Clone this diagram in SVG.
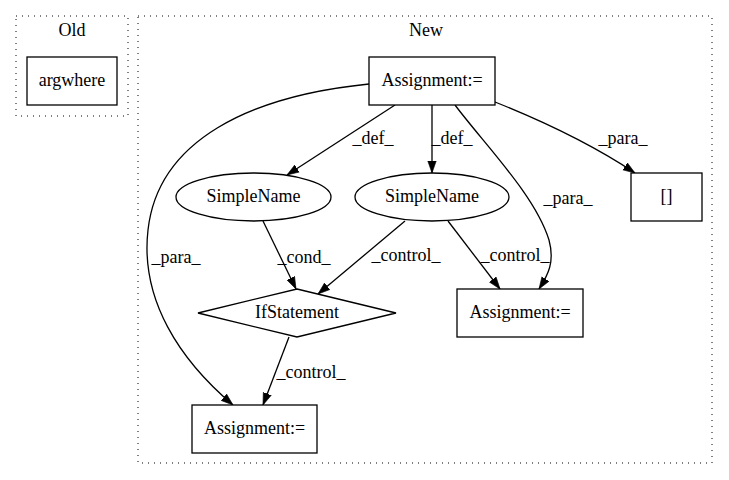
<svg xmlns="http://www.w3.org/2000/svg" width="729" height="480" viewBox="0 0 729 480">
<style>
text{font-family:'Liberation Serif','Times New Roman',Times,serif;font-size:18px;fill:#000}
.n{text-anchor:middle}
.cl{fill:none;stroke:#000;stroke-width:1;stroke-dasharray:1,5}
.shape{fill:#fff;stroke:#000;stroke-width:1.3}
.e{fill:none;stroke:#000;stroke-width:1.3}
.l{text-anchor:middle}
</style>
<defs>
<marker id="ah" markerUnits="userSpaceOnUse" markerWidth="12" markerHeight="10" viewBox="0 0 10 7" refX="10" refY="3.5" orient="auto">
<path d="M0,0 L10,3.5 L0,7 Z" fill="#000" stroke="#000" stroke-width="0.5"/>
</marker>
</defs>
<rect width="729" height="480" fill="#fff"/>
<g id="cluster_old">
<rect class="cl" x="16" y="16" width="112" height="100"/>
<text class="n" x="72" y="36">Old</text>
</g>
<g id="cluster_new">
<rect class="cl" x="138" y="16" width="574" height="447"/>
<text class="n" x="426" y="36">New</text>
</g>
<g id="connectors">
<path class="e" marker-end="url(#ah)" d="M395,105 L287,175"/>
<text class="l" x="373" y="144">_def_</text>
<path class="e" marker-end="url(#ah)" d="M432,105 L432,173"/>
<text class="l" x="452" y="144">_def_</text>
<path class="e" marker-end="url(#ah)" d="M495,102 C540,120 590,143 635,173"/>
<text class="l" x="623" y="144">_para_</text>
<path class="e" marker-end="url(#ah)" d="M455,105 C485,145 535,195 549,240 C555,262 548,275 539,289"/>
<text class="l" x="568" y="204">_para_</text>
<path class="e" marker-end="url(#ah)" d="M369,84 C250,96 158,140 148,230 C140,300 180,360 233,405"/>
<text class="l" x="176" y="263">_para_</text>
<path class="e" marker-end="url(#ah)" d="M263,221 L296,289"/>
<text class="l" x="304" y="263">_cond_</text>
<path class="e" marker-end="url(#ah)" d="M405,221 L318,294"/>
<text class="l" x="406" y="261">_control_</text>
<path class="e" marker-end="url(#ah)" d="M448,221 L500,289"/>
<text class="l" x="515" y="261">_control_</text>
<path class="e" marker-end="url(#ah)" d="M289,337 L263,405"/>
<text class="l" x="311" y="378">_control_</text>
</g>
<g id="argwhere">
<rect class="shape" x="27" y="57" width="90" height="48"/>
<text class="n" x="72" y="86">argwhere</text>
</g>
<g id="assign_top">
<rect class="shape" x="369" y="57" width="126" height="48"/>
<text class="n" x="432" y="86">Assignment:=</text>
</g>
<g id="simplename_left">
<ellipse class="shape" cx="253.5" cy="197" rx="77.5" ry="24"/>
<text class="n" x="253.5" y="202">SimpleName</text>
</g>
<g id="simplename_right">
<ellipse class="shape" cx="432" cy="197" rx="77" ry="24"/>
<text class="n" x="432" y="202">SimpleName</text>
</g>
<g id="brackets">
<rect class="shape" x="631" y="173" width="71" height="48"/>
<text class="n" x="666.5" y="202">[]</text>
</g>
<g id="ifstatement">
<polygon class="shape" points="297,289 396,313 297,337 198,313"/>
<text class="n" x="297" y="318">IfStatement</text>
</g>
<g id="assign_mid">
<rect class="shape" x="457" y="289" width="126" height="48"/>
<text class="n" x="520" y="318">Assignment:=</text>
</g>
<g id="assign_bottom">
<rect class="shape" x="192" y="405" width="125" height="48"/>
<text class="n" x="254.5" y="434">Assignment:=</text>
</g>
</svg>
